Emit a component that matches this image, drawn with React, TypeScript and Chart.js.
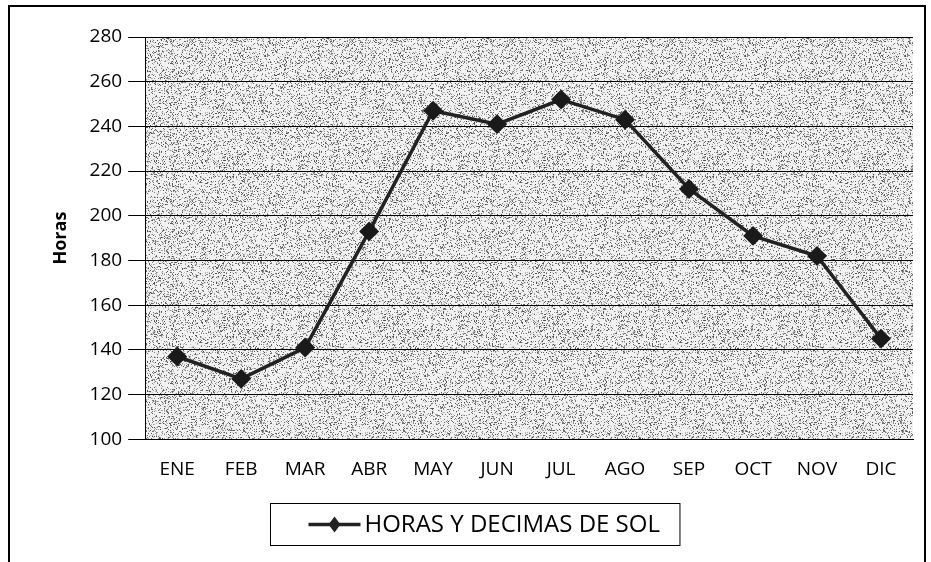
import React, { useEffect, useRef } from "react";
import { Chart, registerables } from "chart.js";

Chart.register(...registerables);

const months = ["ENE", "FEB", "MAR", "ABR", "MAY", "JUN", "JUL", "AGO", "SEP", "OCT", "NOV", "DIC"];
const horasSol = [137, 127, 141, 193, 247, 241, 252, 243, 212, 191, 182, 145];
const seriesLabel = "HORAS Y DECIMAS DE SOL";
const axisTitle = "Horas";
const yMin = 100;
const yMax = 280;
const yStep = 20;

const FONT = "'Open Sans', 'Liberation Sans', sans-serif";

function makeStipple(): CanvasPattern | string {
  const c = document.createElement("canvas");
  c.width = 160;
  c.height = 160;
  const g = c.getContext("2d");
  if (!g) return "#cfcfcf";
  g.fillStyle = "#f2f2f2";
  g.fillRect(0, 0, 160, 160);
  let s = 98765;
  const next = () => {
    s = (s * 1103515245 + 12345) & 0x7fffffff;
    return s / 0x7fffffff;
  };
  for (let i = 0; i < 160 * 160 * 0.3; i++) {
    const x = Math.floor(next() * 160);
    const y = Math.floor(next() * 160);
    const v = Math.floor(70 + next() * 140);
    g.fillStyle = `rgb(${v},${v},${v})`;
    g.fillRect(x, y, 1, 1);
  }
  const p = g.createPattern(c, "repeat");
  return p || "#cfcfcf";
}

export default function App() {
  const ref = useRef<HTMLCanvasElement | null>(null);

  useEffect(() => {
    if (!ref.current) return;
    const stipple = makeStipple();

    const bgPlugin = {
      id: "plotBg",
      beforeDraw(chart: any) {
        const { ctx, chartArea } = chart;
        ctx.save();
        ctx.fillStyle = stipple as any;
        ctx.fillRect(chartArea.left, chartArea.top, chartArea.right - chartArea.left, chartArea.bottom - chartArea.top);
        ctx.restore();
      },
    };

    const legendPlugin = {
      id: "customLegend",
      afterDraw(chart: any) {
        const ctx = chart.ctx as CanvasRenderingContext2D;
        ctx.save();
        ctx.font = `24px ${FONT}`;
        const tw = ctx.measureText(seriesLabel).width;
        const markerW = 52;
        const gap = 4;
        const padX = 38;
        const boxW = padX + markerW + gap + tw + 20;
        const boxH = 42;
        const cx = chart.width / 2 + 8;
        const left = Math.round(cx - boxW / 2) + 0.5;
        const top = chart.height - 18 - boxH + 0.5;
        ctx.strokeStyle = "#000";
        ctx.lineWidth = 1;
        ctx.strokeRect(left, top, boxW, boxH);
        const my = top + boxH / 2;
        const mx0 = left + padX;
        ctx.strokeStyle = "#222";
        ctx.lineWidth = 3.5;
        ctx.beginPath();
        ctx.moveTo(mx0, my);
        ctx.lineTo(mx0 + markerW, my);
        ctx.stroke();
        const dcx = mx0 + markerW / 2;
        ctx.fillStyle = "#222";
        ctx.beginPath();
        ctx.moveTo(dcx, my - 8);
        ctx.lineTo(dcx + 6, my);
        ctx.lineTo(dcx, my + 8);
        ctx.lineTo(dcx - 6, my);
        ctx.closePath();
        ctx.fill();
        ctx.fillStyle = "#000";
        ctx.textBaseline = "middle";
        ctx.textAlign = "left";
        ctx.fillText(seriesLabel, mx0 + markerW + gap, my + 1);
        ctx.restore();
      },
    };

    const chart = new Chart(ref.current, {
      type: "line",
      data: {
        labels: months,
        datasets: [
          {
            label: seriesLabel,
            data: horasSol,
            borderColor: "#222",
            backgroundColor: "#222",
            borderWidth: 3.5,
            pointStyle: "rectRot",
            pointRadius: 7.5,
            pointBackgroundColor: "#1a1a1a",
            pointBorderColor: "#1a1a1a",
            tension: 0,
          },
        ],
      },
      options: {
        animation: false,
        responsive: false,
        maintainAspectRatio: false,
        layout: { padding: { top: 30, right: 10, left: 36, bottom: 63 } },
        plugins: {
          legend: { display: false },
          tooltip: { enabled: false },
        },
        scales: {
          x: {
            offset: true,
            grid: { display: false, drawTicks: false },
            border: { display: true, color: "#000", width: 1 },
            ticks: { color: "#000", font: { family: FONT, size: 19 }, padding: 19 },
          },
          y: {
            min: yMin,
            max: yMax,
            ticks: {
              stepSize: yStep,
              color: "#000",
              font: { family: FONT, size: 19 },
              padding: 6,
            },
            grid: { color: "#000", lineWidth: 1, tickLength: 17, drawTicks: true },
            border: { display: true, color: "#000", width: 1 },
            title: {
              display: true,
              text: axisTitle,
              color: "#000",
              font: { family: FONT, size: 18, weight: "bold" },
              padding: { bottom: 12 },
            },
          },
        },
      },
      plugins: [bgPlugin, legendPlugin],
    });
    return () => chart.destroy();
  }, []);

  return (
    <div
      style={{
        position: "fixed",
        left: 8,
        top: 5,
        width: 918,
        height: 560,
        border: "2px solid #000",
        boxSizing: "border-box",
        background: "#fff",
      }}
    >
      <canvas ref={ref} width={914} height={556} style={{ display: "block" }} />
    </div>
  );
}
